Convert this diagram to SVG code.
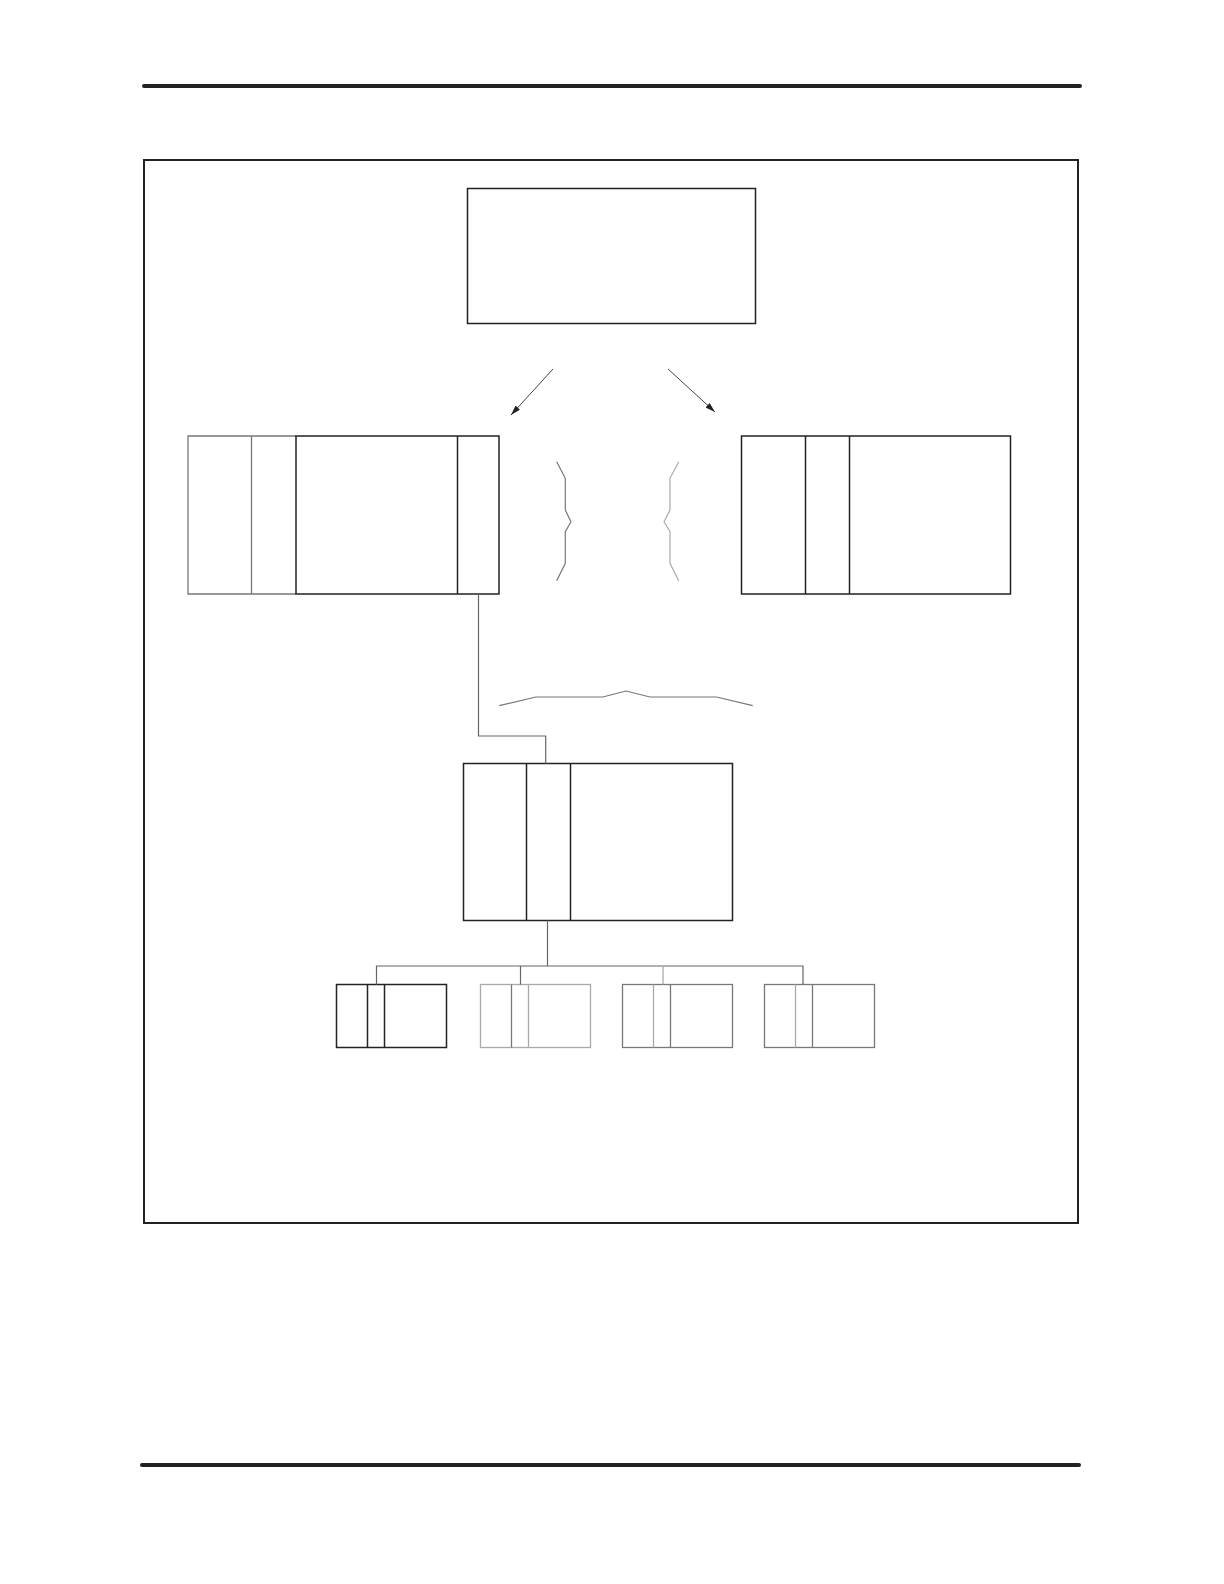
<svg xmlns="http://www.w3.org/2000/svg" width="1224" height="1584" viewBox="0 0 1224 1584">
<style>
.rule{stroke:#222;stroke-width:4;stroke-linecap:round;fill:none}
.frame{stroke:#222;stroke-width:2;fill:none}
.box{stroke:#222;stroke-width:1.5;fill:none}
.gbox{stroke:#777;stroke-width:1.3;fill:none}
.lbox{stroke:#aaa;stroke-width:1.3;fill:none}
.conn{stroke:#666;stroke-width:1.2;fill:none}
.brace{stroke:#777;stroke-width:1.2;fill:none}
.brace2{stroke:#aaa;stroke-width:1.2;fill:none}
.arrow{stroke:#444;stroke-width:1;fill:none}
</style>
<defs>
<marker id="ah" viewBox="0 0 10 6" refX="10" refY="3" markerWidth="10" markerHeight="6" markerUnits="userSpaceOnUse" orient="auto">
<path d="M0,0 L10,3 L0,6 Z" fill="#222"/>
</marker>
</defs>
<line class="rule" x1="144" y1="86" x2="1080" y2="86"/>
<line class="rule" x1="142" y1="1465" x2="1079" y2="1465"/>
<rect class="frame" x="144" y="160" width="934" height="1063"/>

<g id="node-top">
<rect class="box" x="467.5" y="188.5" width="288" height="135"/>
</g>

<g id="node-left">
<path class="gbox" d="M296,436 H188 V594 H296 M251.5,436 V594"/>
<rect class="box" x="296" y="436" width="203" height="158"/>
<line class="box" x1="457.5" y1="436" x2="457.5" y2="594"/>
</g>

<g id="node-right">
<rect class="box" x="741.5" y="436" width="269" height="158"/>
<line class="box" x1="805.5" y1="436" x2="805.5" y2="594"/>
<line class="box" x1="849.5" y1="436" x2="849.5" y2="594"/>
</g>

<g id="node-middle">
<rect class="box" x="463.5" y="763.5" width="269" height="157"/>
<line class="box" x1="526.5" y1="763.5" x2="526.5" y2="920.5"/>
<line class="box" x1="570.5" y1="763.5" x2="570.5" y2="920.5"/>
</g>

<g id="node-small-1">
<rect class="box" x="336.5" y="984.5" width="110" height="63"/>
<line class="box" x1="367.5" y1="984.5" x2="367.5" y2="1047.5"/>
<line class="box" x1="384.5" y1="984.5" x2="384.5" y2="1047.5"/>
</g>
<g id="node-small-2">
<rect class="lbox" x="480.5" y="984.5" width="110" height="63"/>
<line class="gbox" x1="511.5" y1="984.5" x2="511.5" y2="1047.5"/>
<line class="lbox" x1="528.5" y1="984.5" x2="528.5" y2="1047.5"/>
</g>
<g id="node-small-3">
<rect class="gbox" x="622.5" y="984.5" width="110" height="63"/>
<line class="lbox" x1="653.5" y1="984.5" x2="653.5" y2="1047.5"/>
<line class="gbox" x1="670.5" y1="984.5" x2="670.5" y2="1047.5"/>
</g>
<g id="node-small-4">
<rect class="gbox" x="764.5" y="984.5" width="110" height="63"/>
<line class="lbox" x1="795.5" y1="984.5" x2="795.5" y2="1047.5"/>
<line class="gbox" x1="812.5" y1="984.5" x2="812.5" y2="1047.5"/>
</g>

<g id="connectors">
<line class="arrow" x1="553" y1="369" x2="511" y2="415" marker-end="url(#ah)"/>
<line class="arrow" x1="668" y1="369" x2="715" y2="412" marker-end="url(#ah)"/>
<polyline class="brace" points="556.7,461.7 565.3,478.3 565.3,510 571,521.7 565.3,531.7 565.3,563.3 556.7,580.7"/>
<polyline class="brace2" points="678.7,461.7 670,478.3 670,510 664,521.7 670,531.7 670,563.3 678.7,580.7"/>
<polyline class="brace" points="499.3,705.7 536,697 602.7,697 626,691 650,697 716.7,697 752.7,705.7"/>
<polyline class="conn" points="478.5,594 478.5,736 545.7,736 545.7,763.5"/>
<line class="conn" x1="547.5" y1="920.5" x2="547.5" y2="966"/>
<polyline class="conn" points="376.5,984.5 376.5,966 803,966 803,984.5"/>
<line class="conn" x1="520.5" y1="966" x2="520.5" y2="984.5"/>
<line class="lbox" x1="663" y1="966" x2="663" y2="984.5"/>
</g>
</svg>
